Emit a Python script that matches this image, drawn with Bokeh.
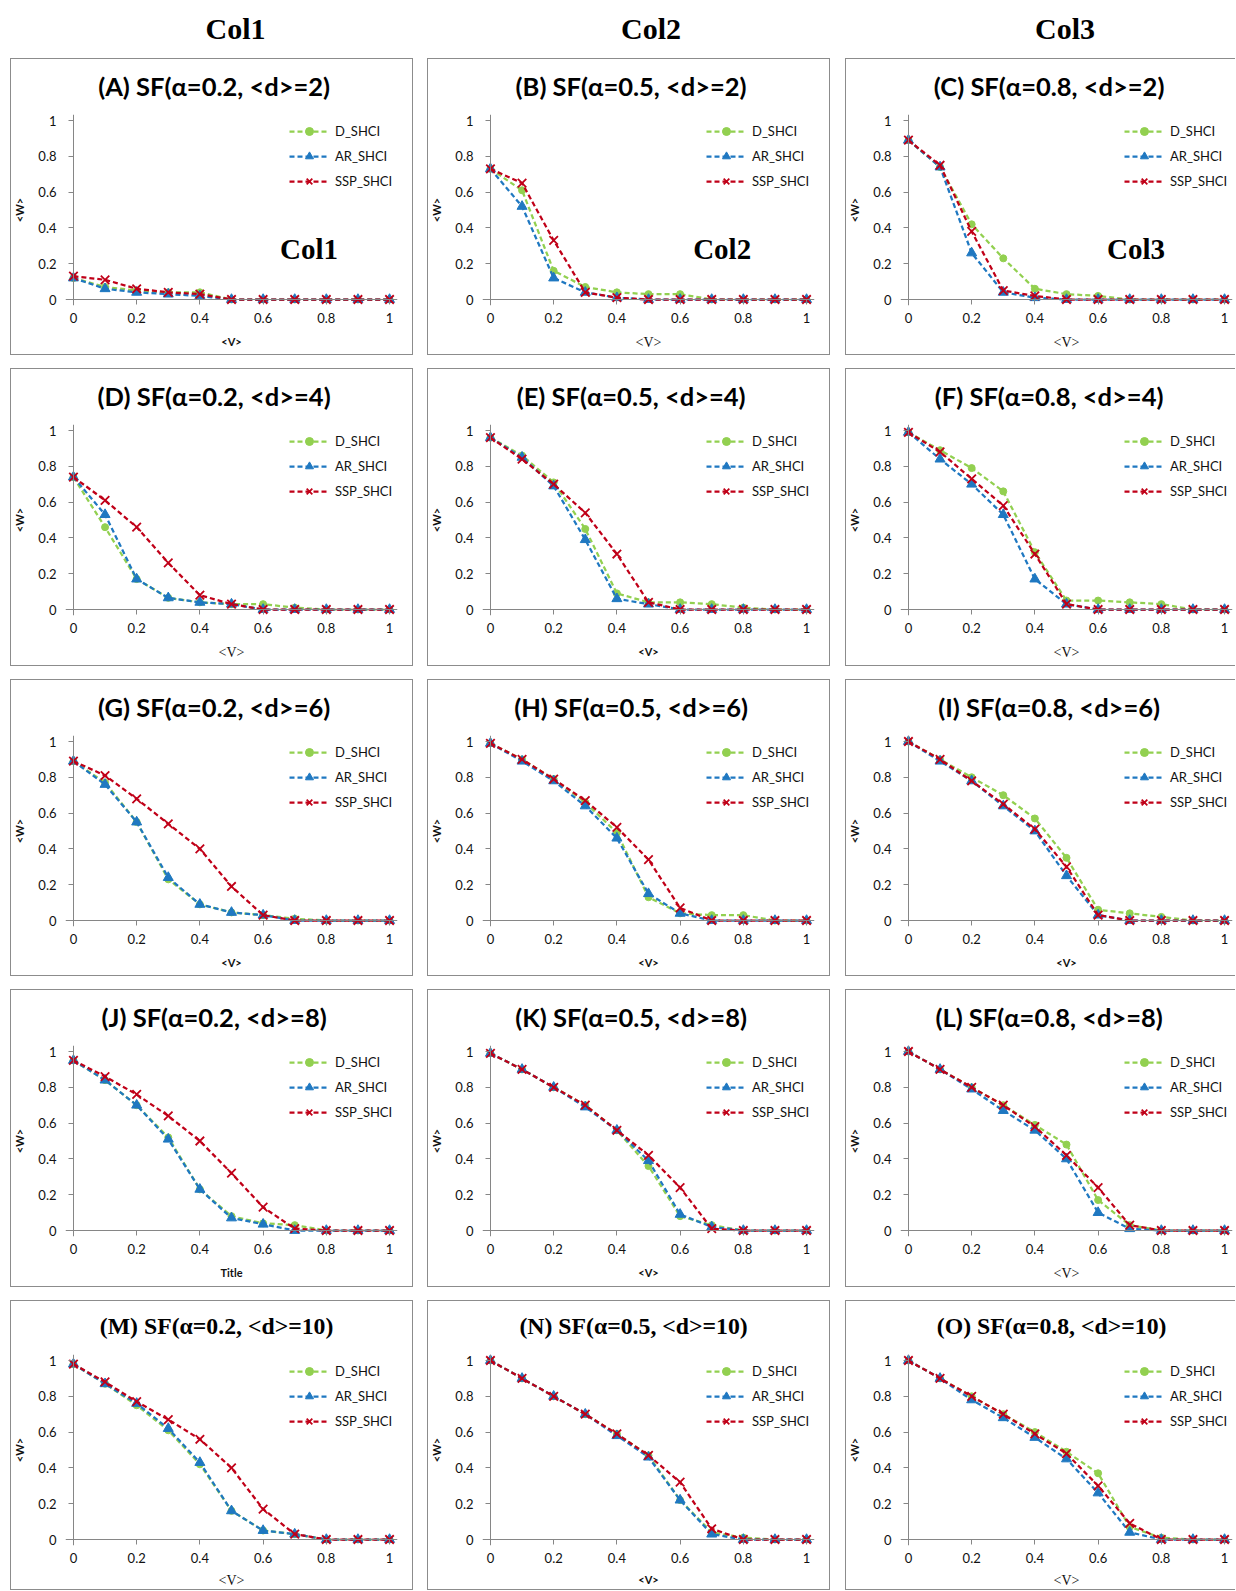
from bokeh.plotting import figure
from bokeh.models import (Range1d, FixedTicker, CustomJSTickFormatter, Legend, LegendItem,
                          Spacer, LinearAxis)
from bokeh.layouts import column, row
from bokeh.embed import file_html
from bokeh.resources import INLINE
from bokeh.core.properties import value

# ---------------- data ----------------
V = [0.0, 0.1, 0.2, 0.3, 0.4, 0.5, 0.6, 0.7, 0.8, 0.9, 1.0]
SERIES = ["D_SHCI", "AR_SHCI", "SSP_SHCI"]
HEADERS = ["Col1", "Col2", "Col3"]
TICKS = [0, 0.2, 0.4, 0.6, 0.8, 1.0]

A_D   = [0.12, 0.07, 0.05, 0.04, 0.04, 0, 0, 0, 0, 0, 0]
A_AR  = [0.12, 0.06, 0.04, 0.03, 0.02, 0, 0, 0, 0, 0, 0]
A_SSP = [0.13, 0.11, 0.06, 0.04, 0.03, 0, 0, 0, 0, 0, 0]

B_D   = [0.73, 0.61, 0.16, 0.07, 0.04, 0.03, 0.03, 0, 0, 0, 0]
B_AR  = [0.73, 0.52, 0.12, 0.04, 0.01, 0, 0, 0, 0, 0, 0]
B_SSP = [0.73, 0.65, 0.33, 0.04, 0.01, 0, 0, 0, 0, 0, 0]

C_D   = [0.89, 0.74, 0.42, 0.23, 0.06, 0.03, 0.02, 0, 0, 0, 0]
C_AR  = [0.89, 0.74, 0.26, 0.04, 0.01, 0, 0, 0, 0, 0, 0]
C_SSP = [0.89, 0.75, 0.38, 0.05, 0.02, 0, 0, 0, 0, 0, 0]

D_D   = [0.74, 0.46, 0.17, 0.065, 0.04, 0.03, 0.03, 0.01, 0, 0, 0]
D_AR  = [0.74, 0.53, 0.17, 0.065, 0.04, 0.03, 0, 0, 0, 0, 0]
D_SSP = [0.74, 0.61, 0.46, 0.26, 0.08, 0.03, 0, 0, 0, 0, 0]

E_D   = [0.96, 0.86, 0.71, 0.45, 0.09, 0.04, 0.04, 0.03, 0.01, 0, 0]
E_AR  = [0.96, 0.85, 0.69, 0.39, 0.06, 0.03, 0, 0, 0, 0, 0]
E_SSP = [0.96, 0.84, 0.70, 0.54, 0.31, 0.04, 0, 0, 0, 0, 0]

F_D   = [0.99, 0.89, 0.79, 0.66, 0.32, 0.05, 0.05, 0.04, 0.03, 0, 0]
F_AR  = [0.99, 0.84, 0.70, 0.53, 0.17, 0.03, 0, 0, 0, 0, 0]
F_SSP = [0.99, 0.88, 0.73, 0.58, 0.31, 0.03, 0, 0, 0, 0, 0]

G_D   = [0.89, 0.77, 0.55, 0.23, 0.09, 0.045, 0.03, 0.01, 0, 0, 0]
G_AR  = [0.89, 0.76, 0.55, 0.24, 0.09, 0.045, 0.03, 0, 0, 0, 0]
G_SSP = [0.89, 0.81, 0.68, 0.54, 0.40, 0.19, 0.03, 0, 0, 0, 0]

H_D   = [0.99, 0.90, 0.79, 0.66, 0.49, 0.13, 0.04, 0.03, 0.03, 0, 0]
H_AR  = [0.99, 0.89, 0.78, 0.64, 0.46, 0.15, 0.04, 0, 0, 0, 0]
H_SSP = [0.99, 0.90, 0.79, 0.67, 0.52, 0.34, 0.07, 0, 0, 0, 0]

I_D   = [1.0, 0.90, 0.80, 0.70, 0.57, 0.35, 0.06, 0.04, 0.02, 0, 0]
I_AR  = [1.0, 0.89, 0.78, 0.64, 0.50, 0.25, 0.03, 0, 0, 0, 0]
I_SSP = [1.0, 0.90, 0.78, 0.65, 0.51, 0.30, 0.03, 0, 0, 0, 0]

J_D   = [0.95, 0.84, 0.70, 0.52, 0.23, 0.08, 0.04, 0.03, 0, 0, 0]
J_AR  = [0.95, 0.84, 0.70, 0.51, 0.23, 0.07, 0.035, 0, 0, 0, 0]
J_SSP = [0.95, 0.86, 0.76, 0.64, 0.50, 0.32, 0.13, 0.01, 0, 0, 0]

K_D   = [0.99, 0.90, 0.80, 0.70, 0.56, 0.36, 0.08, 0.03, 0, 0, 0]
K_AR  = [0.99, 0.90, 0.80, 0.69, 0.56, 0.39, 0.09, 0.02, 0, 0, 0]
K_SSP = [0.99, 0.90, 0.80, 0.70, 0.56, 0.42, 0.24, 0.01, 0, 0, 0]

L_D   = [1.0, 0.90, 0.80, 0.70, 0.59, 0.48, 0.17, 0.03, 0, 0, 0]
L_AR  = [1.0, 0.90, 0.79, 0.67, 0.56, 0.40, 0.10, 0.01, 0, 0, 0]
L_SSP = [1.0, 0.90, 0.80, 0.70, 0.58, 0.42, 0.24, 0.03, 0, 0, 0]

M_D   = [0.98, 0.87, 0.75, 0.61, 0.42, 0.16, 0.05, 0.03, 0, 0, 0]
M_AR  = [0.98, 0.87, 0.76, 0.62, 0.43, 0.16, 0.05, 0.03, 0, 0, 0]
M_SSP = [0.98, 0.88, 0.77, 0.67, 0.56, 0.40, 0.17, 0.03, 0, 0, 0]

N_D   = [1.0, 0.90, 0.80, 0.70, 0.59, 0.47, 0.22, 0.04, 0.01, 0, 0]
N_AR  = [1.0, 0.90, 0.80, 0.70, 0.58, 0.46, 0.22, 0.03, 0, 0, 0]
N_SSP = [1.0, 0.90, 0.80, 0.70, 0.59, 0.47, 0.32, 0.06, 0, 0, 0]

O_D   = [1.0, 0.90, 0.80, 0.70, 0.60, 0.49, 0.37, 0.07, 0.01, 0, 0]
O_AR  = [1.0, 0.90, 0.78, 0.68, 0.57, 0.45, 0.26, 0.04, 0, 0, 0]
O_SSP = [1.0, 0.90, 0.80, 0.70, 0.59, 0.48, 0.30, 0.09, 0, 0, 0]

TITLES = [
    "(A) SF(α=0.2, <d>=2)", "(B) SF(α=0.5, <d>=2)", "(C) SF(α=0.8, <d>=2)",
    "(D) SF(α=0.2, <d>=4)", "(E) SF(α=0.5, <d>=4)", "(F) SF(α=0.8, <d>=4)",
    "(G) SF(α=0.2, <d>=6)", "(H) SF(α=0.5, <d>=6)", "(I) SF(α=0.8, <d>=6)",
    "(J) SF(α=0.2, <d>=8)", "(K) SF(α=0.5, <d>=8)", "(L) SF(α=0.8, <d>=8)",
    "(M) SF(α=0.2, <d>=10)", "(N) SF(α=0.5, <d>=10)", "(O) SF(α=0.8, <d>=10)",
]
XLABELS = ["<V>"] * 9 + ["Title"] + ["<V>"] * 5
DATA = [
    (A_D, A_AR, A_SSP), (B_D, B_AR, B_SSP), (C_D, C_AR, C_SSP),
    (D_D, D_AR, D_SSP), (E_D, E_AR, E_SSP), (F_D, F_AR, F_SSP),
    (G_D, G_AR, G_SSP), (H_D, H_AR, H_SSP), (I_D, I_AR, I_SSP),
    (J_D, J_AR, J_SSP), (K_D, K_AR, K_SSP), (L_D, L_AR, L_SSP),
    (M_D, M_AR, M_SSP), (N_D, N_AR, N_SSP), (O_D, O_AR, O_SSP),
]

# ---------------- styles ----------------
SANS = "Lato"
SERIF = "Liberation Serif"
COLORS = ["#92D050", "#1F78C1", "#C00018"]
MARKERS = ["circle", "triangle", "x"]
MSIZES = [7, 10, 12]
XLABEL_SERIF = {1, 2, 3, 5, 11, 12, 14}
TITLE_SERIF = {12, 13, 14}
INNER_X = [0.745, 0.733, 0.72]
ROW_H = [297, 298, 297, 298, 290]
COL_W = [403, 403, 390]
TITLE_H = 45
FRAME_L = 53          # left border of every panel's frame, px
FRAME_W = 334         # frame width, px
SANS_TITLE_PX, SANS_CENTER = 25.5, 202.5
SERIF_TITLE_PX, SERIF_CENTER = 23.75, 205.0

XPAD = 8 / 318
YPAD = 6 / 179
BOX = "#8c8c8c"
AXC = "#868686"


def make_title(i):
    r, c = divmod(i, 3)
    width = COL_W[c]
    serif = i in TITLE_SERIF
    # same frame geometry as the plot below it, with x in box-relative pixels
    t = figure(width=width, height=TITLE_H,
               x_range=Range1d(FRAME_L, FRAME_L + FRAME_W), y_range=Range1d(0, TITLE_H),
               output_backend="svg", toolbar_location=None, title=None,
               min_border_left=FRAME_L, min_border_right=width - FRAME_L - FRAME_W,
               min_border_top=0, min_border_bottom=0,
               x_axis_type=None, y_axis_type=None)
    t.grid.visible = False
    t.outline_line_color = None
    t.border_fill_color = None
    t.background_fill_color = None
    t.text(x=[SERIF_CENTER if serif else SANS_CENTER], y=[19.7 if r == 4 else 17.5],
           text=[TITLES[i]],
           text_font=value(SERIF if serif else SANS), text_font_style="bold",
           text_font_size=f"{SERIF_TITLE_PX}px" if serif else f"{SANS_TITLE_PX}px",
           text_align="center", text_baseline="middle", text_color="black")
    return t


def make_panel(i):
    r, c = divmod(i, 3)
    last = (r == 4)
    width = COL_W[c]
    height = ROW_H[r] - TITLE_H
    top = (54 if last else 56) - TITLE_H
    bottom = height - top - 191
    p = figure(width=width, height=height,
               x_range=Range1d(-XPAD, 1 + XPAD), y_range=Range1d(-YPAD, 1 + YPAD),
               output_backend="svg", toolbar_location=None, title=None,
               min_border_left=FRAME_L, min_border_right=width - FRAME_L - FRAME_W,
               min_border_top=top, min_border_bottom=bottom)
    p.grid.visible = False
    p.outline_line_color = None
    p.border_fill_color = None
    p.background_fill_color = "white"

    # label axes (at frame edges, no lines)
    fmt = CustomJSTickFormatter(code="return Number(tick.toFixed(1)).toString();")
    for ax in (p.xaxis[0], p.yaxis[0]):
        ax.ticker = FixedTicker(ticks=TICKS)
        ax.formatter = fmt
        ax.axis_line_color = None
        ax.major_tick_line_color = None
        ax.minor_tick_line_color = None
        ax.major_tick_out = 0
        ax.major_tick_in = 0
        ax.major_label_text_font = SANS
        ax.major_label_text_font_size = "13px"
        ax.major_label_text_color = "#111111"
    p.xaxis.major_label_standoff = 7
    p.yaxis.major_label_standoff = 9
    p.yaxis.axis_label = "<W>"
    p.yaxis.axis_label_text_font = SANS
    p.yaxis.axis_label_text_font_style = "bold"
    p.yaxis.axis_label_text_font_size = "11px"
    p.yaxis.axis_label_text_color = "#111111"
    p.yaxis.axis_label_standoff = 9
    p.xaxis.axis_label = XLABELS[i]
    if i in XLABEL_SERIF:
        p.xaxis.axis_label_text_font = SERIF
        p.xaxis.axis_label_text_font_style = "normal"
        p.xaxis.axis_label_text_font_size = "14px"
    else:
        p.xaxis.axis_label_text_font = SANS
        p.xaxis.axis_label_text_font_style = "bold"
        p.xaxis.axis_label_text_font_size = "11px"
    p.xaxis.axis_label_text_color = "#111111"
    p.xaxis.axis_label_standoff = 7 if last else 9

    # axis lines + ticks at data zero
    for side in ("left", "below"):
        ax = LinearAxis(fixed_location=0, ticker=FixedTicker(ticks=TICKS),
                        axis_line_color=AXC, major_tick_line_color=AXC,
                        minor_tick_line_color=None, major_tick_out=5, major_tick_in=0,
                        major_label_text_color=None, major_label_text_font_size="0px")
        p.add_layout(ax, side)

    items = []
    for k, ys in enumerate(DATA[i]):
        ln = p.line(V, ys, line_color=COLORS[k], line_width=2.25, line_dash="5 3")
        if MARKERS[k] == "x":
            mk = p.scatter(V, ys, marker="x", size=MSIZES[k], line_color=COLORS[k], line_width=1.8)
        else:
            mk = p.scatter(V, ys, marker=MARKERS[k], size=MSIZES[k],
                           fill_color=COLORS[k], line_color=COLORS[k])
        items.append(LegendItem(label=SERIES[k], renderers=[ln, mk]))
    leg = Legend(items=items, location=(224, 114), glyph_width=40, glyph_height=20,
                 label_height=20, spacing=5, padding=0, margin=0, label_standoff=6,
                 border_line_color=None, background_fill_alpha=0,
                 label_text_font=SANS, label_text_font_size="13px", label_text_color="#111111")
    p.add_layout(leg)

    if r == 0:
        p.text(x=[INNER_X[c]], y=[0.28], text=[HEADERS[c]], text_font=value(SERIF),
               text_font_style="bold", text_font_size="29px", text_align="center",
               text_baseline="middle", text_color="black")

    if c == 2:
        box = f"inset 1px 0 0 0 {BOX}, inset 0 1px 0 0 {BOX}, inset 0 -1px 0 0 {BOX}"
    else:
        box = f"inset 0 0 0 1px {BOX}"
    return column(make_title(i), p, spacing=0, styles={"box-shadow": box})


panels = [make_panel(i) for i in range(15)]

header = figure(width=1235, height=58, x_range=Range1d(0, 1235), y_range=Range1d(0, 58),
                output_backend="svg", toolbar_location=None, min_border=0,
                x_axis_type=None, y_axis_type=None)
header.grid.visible = False
header.outline_line_color = None
header.text(x=[235, 650.5, 1064.5], y=[30.5, 30.5, 30.5], text=HEADERS,
            text_font=value(SERIF), text_font_style="bold", text_font_size="30px",
            text_align="center", text_baseline="middle", text_color="black")

cols = [column(*[panels[r * 3 + c] for r in range(5)], spacing=13) for c in range(3)]
body = row(Spacer(width=10, height=10), cols[0], Spacer(width=14, height=10), cols[1],
           Spacer(width=15, height=10), cols[2])
layout = column(header, body)

open("out.html", "w").write(file_html(layout, INLINE))
